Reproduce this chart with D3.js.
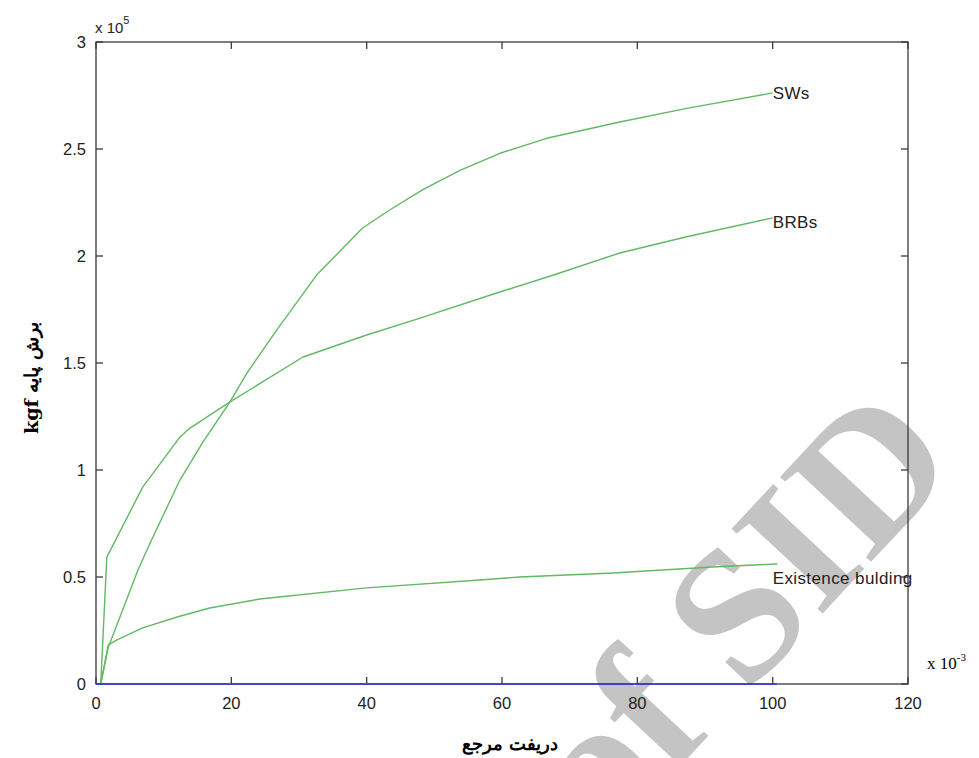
<!DOCTYPE html>
<html><head><meta charset="utf-8">
<script src="https://cdn.jsdelivr.net/npm/d3@7"></script>
<style>body{margin:0;background:#fff}svg{display:block}</style>
</head><body>
<svg id="c" width="979" height="758"></svg>
<script>
// Drift (x10^-3) and base shear (x10^5 kgf)
const swsX = [0.7, 1.8, 3.5, 6.2, 8.0, 12.4, 15.8, 19.8, 22.3, 26.7, 32.6, 39.4, 43.4, 48.3, 53.8, 59.7, 66.6, 77.4, 87.3, 100];
const swsY = [0, 0.17, 0.31, 0.533, 0.659, 0.953, 1.13, 1.318, 1.453, 1.654, 1.911, 2.131, 2.215, 2.31, 2.40, 2.48, 2.55, 2.626, 2.69, 2.762];
const brbX = [0.7, 1.6, 6.9, 12.4, 13.9, 19.8, 30.6, 40, 47.9, 59.2, 67.5, 77.4, 87.3, 100];
const brbY = [0, 0.593, 0.92, 1.154, 1.196, 1.318, 1.528, 1.631, 1.71, 1.827, 1.91, 2.014, 2.09, 2.178];
const exX = [0.7, 1.8, 3.1, 6.9, 12.0, 16.8, 24.2, 40, 56.7, 62.6, 76.4, 91.1, 100.7];
const exY = [0, 0.182, 0.206, 0.262, 0.313, 0.355, 0.397, 0.449, 0.486, 0.5, 0.519, 0.547, 0.561];
const zeroX = [0, 100.6];
const zeroY = [0, 0];
const labels = ["SWs", "BRBs", "Existence bulding"];
const xTicks = [0, 20, 40, 60, 80, 100, 120];
const yTicks = [0, 0.5, 1, 1.5, 2, 2.5, 3];

const svg = d3.select("#c");
const L = 96, R = 908, T = 42, B = 684;
const x = d3.scaleLinear().domain([0, 120]).range([L, R]);
const y = d3.scaleLinear().domain([0, 3]).range([B, T]);

// watermark
svg.append("text")
  .attr("transform", "translate(784,655) rotate(-47)")
  .attr("text-anchor", "middle")
  .attr("font-family", "Liberation Serif")
  .attr("font-weight", "bold")
  .attr("font-size", 190)
  .attr("fill", "#c4c4c4")
  .text("of SID");

const tickLen = 7;
const ax = svg.append("g").attr("stroke", "#3a3a3a").attr("stroke-width", 1.3).attr("fill", "none");
ax.append("rect").attr("x", L).attr("y", T).attr("width", R - L).attr("height", B - T);
xTicks.forEach(t => {
  ax.append("line").attr("x1", x(t)).attr("x2", x(t)).attr("y1", B).attr("y2", B - tickLen);
  ax.append("line").attr("x1", x(t)).attr("x2", x(t)).attr("y1", T).attr("y2", T + tickLen);
});
yTicks.forEach(t => {
  ax.append("line").attr("x1", L).attr("x2", L + tickLen).attr("y1", y(t)).attr("y2", y(t));
  ax.append("line").attr("x1", R).attr("x2", R - tickLen).attr("y1", y(t)).attr("y2", y(t));
});

const tl = svg.append("g").attr("font-family", "Liberation Sans, Arial").attr("font-size", 16.5).attr("fill", "#222");
xTicks.forEach(t => tl.append("text").attr("x", x(t)).attr("y", B + 25).attr("text-anchor", "middle").text(t));
yTicks.forEach(t => tl.append("text").attr("x", L - 10).attr("y", y(t) + 6).attr("text-anchor", "end").text(t));

// exponent
const ex = svg.append("text").attr("x", 95).attr("y", 33).attr("font-family", "Liberation Sans, Arial").attr("font-size", 15).attr("fill", "#222");
ex.append("tspan").text("x 10");
ex.append("tspan").attr("dy", -9).attr("font-size", 11).text("5");

const line = d3.line().x(d => x(d[0])).y(d => y(d[1]));
[[swsX, swsY], [brbX, brbY], [exX, exY]].forEach(s => {
  svg.append("path").datum(d3.zip(s[0], s[1])).attr("d", line)
    .attr("fill", "none").attr("stroke", "#63b865").attr("stroke-width", 1.4).attr("stroke-linejoin", "round");
});
svg.append("path").datum(d3.zip(zeroX, zeroY)).attr("d", line)
  .attr("fill", "none").attr("stroke", "#3333ee").attr("stroke-width", 1.6);

const lg = svg.append("g").attr("font-family", "Liberation Sans, Arial").attr("font-size", 17).attr("letter-spacing", 0.4).attr("fill", "#222");
lg.append("text").attr("x", x(100)).attr("y", y(swsY[swsY.length - 1]) + 6).text(labels[0]);
lg.append("text").attr("x", x(100)).attr("y", y(brbY[brbY.length - 1]) + 10).text(labels[1]);
lg.append("text").attr("x", x(100)).attr("y", y(exY[exY.length - 1]) + 20).text(labels[2]);

// x10^-3
const e3 = svg.append("text").attr("x", 927).attr("y", 669).attr("font-family", "Liberation Serif").attr("font-size", 17).attr("fill", "#000");
e3.append("tspan").text("x 10");
e3.append("tspan").attr("dy", -8).attr("font-size", 11).text("-3");

svg.append("text").attr("x", 510).attr("y", 750).attr("text-anchor", "middle")
  .attr("font-family", "DejaVu Serif, Liberation Serif").attr("font-weight", "bold").attr("font-size", 18).attr("fill", "#000")
  .text("دریفت مرجع");
svg.append("text").attr("transform", "translate(38,378) rotate(-90)").attr("text-anchor", "middle")
  .attr("font-family", "DejaVu Serif, Liberation Serif").attr("font-weight", "bold").attr("font-size", 19).attr("fill", "#000")
  .text("kgf برش پایه");
</script>
</body></html>
